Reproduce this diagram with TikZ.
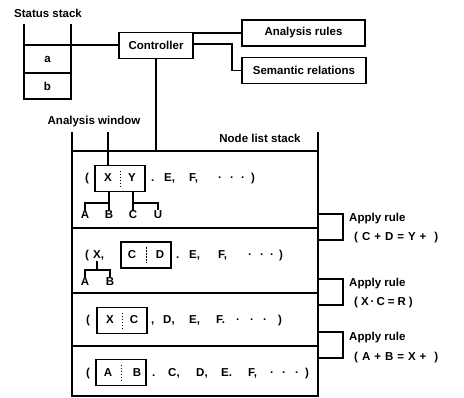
\documentclass[tikz,border=0pt]{standalone}
\usepackage{fontspec}
\setmainfont{Liberation Sans}
\begin{document}
\begin{tikzpicture}[x=1pt,y=-1pt,
  every node/.style={font=\fontsize{11.5}{13}\selectfont\bfseries, inner sep=0pt},
  ln/.style={line width=1.5pt, line cap=rect},
  unit/.style={draw, line width=1.5pt, inner sep=0pt},
  wbox/.style={draw, line width=1.5pt, minimum width=50pt, minimum height=26pt},
  sep/.style={line width=1pt, dash pattern=on 1.5pt off 1.5pt},
  tok/.style={anchor=base west},
  lbl/.style={anchor=base}]
\useasboundingbox (0,0) rectangle (464,398);

% --- status stack ---------------------------------------------------------
\node (stlabel) at (48,13) {Status stack};
\draw[ln] (24,25) -- (24,99) -- (71,99) -- (71,25);
\draw[ln] (24,45) -- (71,45);
\draw[ln] (24,73) -- (71,73);
\node (sa) at (47.5,59) {a};
\node (sb) at (47.5,86) {b};
\coordinate (stk) at (71,45);

% --- controller and its data --------------------------------------------
\node[unit, minimum width=74pt, minimum height=26pt] (ctrl) at (156,45.5) {Controller};
\node[unit, minimum width=123pt, minimum height=26pt] (rules) at (303.5,33) {Analysis rules};
\node[unit, minimum width=124pt, minimum height=26pt] (sem) at (304,70.5) {Semantic relations};
\draw[ln] (stk) -- (stk -| ctrl.west);
\draw[ln] ([xshift=-1pt]ctrl.east |- rules.west) -- (rules.west);
\draw[ln] ([yshift=1.5pt]ctrl.east) -- ++(38,0) |- (sem.west);

% --- node list stack -----------------------------------------------------
\node (awlabel) at (94,122) {Analysis window};
\node (nllabel) at (260,138) {Node list stack};
\coordinate (aw) at (108,133);
\draw[ln] (72,133) -- (72,396) -- (318,396) -- (318,133);
\draw[ln] (72,151) -- (318,151);
\draw[ln] (72,228) -- (318,228);
\draw[ln] (72,293) -- (318,293);
\draw[ln] (72,346) -- (318,346);
\draw[ln] (ctrl.south) -- (ctrl.south |- 0,151);

% row 1
\node[wbox] (w1) at (120,178.5) {};
\node (w1l) at (108,178) {X};
\node (w1r) at (132,178) {Y};
\draw[sep] ([yshift=-6pt]w1.north) -- ([yshift=6pt]w1.south);
\draw[ln] (aw) -- (aw |- w1.north);
\foreach \x/\t [count=\i] in {85/{(},151/{.},164/{E,},189/{F,},218/{·},230/{·},241/{·},251/{)}}
  \node[tok] (ra\i) at (\x,182) {\t};
\node[lbl] (tA) at (85,219) {A};
\node[lbl] (tB) at (109,219) {B};
\node[lbl] (tC) at (133,219) {C};
\node[lbl] (tU) at (158,219) {U};
\draw[ln] (tB.north |- w1.south) -- ([yshift=2pt]tB.north);
\draw[ln] ([yshift=2pt]tA.north) |- (tB.north |- 0,203);
\draw[ln] (tC.north |- w1.south) -- ([yshift=2pt]tC.north);
\draw[ln] ([yshift=2pt]tU.north) |- (tC.north |- 0,203);

% row 2
\node[wbox] (w2) at (146,255) {};
\node (w2l) at (132,255) {C};
\node (w2r) at (160,255) {D};
\draw[sep] ([yshift=-6pt]w2.north) -- ([yshift=6pt]w2.south);
\foreach \x/\t [count=\i] in {85/{(},93/{X,},176/{.},189/{E,},218/{F,},248/{·},260/{·},270/{·},279/{)}}
  \node[tok] (rb\i) at (\x,259) {\t};
\node[lbl] (sA) at (85,286) {A};
\node[lbl] (sB) at (110,286) {B};
\draw[ln] (97,262) -- (97,270);
\draw[ln] ([yshift=2pt]sA.north) |- (sB.north |- 0,270) -- ([yshift=2pt]sB.north);

% row 3
\node[wbox] (w3) at (122,320.5) {};
\node (w3l) at (110,320) {X};
\node (w3r) at (134,320) {C};
\draw[sep] ([yshift=-6pt]w3.north) -- ([yshift=6pt]w3.south);
\foreach \x/\t [count=\i] in {86/{(},151/{,},163/{D,},189/{E,},216/{F.},236/{·},250/{·},263/{·},278/{)}}
  \node[tok] (rc\i) at (\x,324) {\t};

% row 4
\node[wbox] (w4) at (121,372.5) {};
\node (w4l) at (108,373) {A};
\node (w4r) at (137,373) {B};
\draw[sep] ([yshift=-6pt]w4.north) -- ([yshift=6pt]w4.south);
\foreach \x/\t [count=\i] in {86/{(},152/{.},168/{C,},196/{D,},221/{E.},248/{F,},270/{·},282/{·},295/{·},305/{)}}
  \node[tok] (rd\i) at (\x,377) {\t};

% --- rule applications ---------------------------------------------------
\draw[ln] (318,214) -| (343,240) -- (318,240);
\node[tok] (ap1) at (349,222) {Apply rule};
\node[tok] (eq1) at (354,241) {(\hspace{4pt}C\hspace{4pt}+\hspace{4pt}D\hspace{4pt}=\hspace{4pt}Y\hspace{4pt}+\hspace{8pt})};
\draw[ln] (318,279) -| (343,305) -- (318,305);
\node[tok] (ap2) at (349,287) {Apply rule};
\node[tok] (eq2) at (354,306) {(\hspace{3pt}X\hspace{2pt}·\hspace{2pt}C\hspace{3pt}=\hspace{3pt}R\hspace{3pt})};
\draw[ln] (318,332) -| (343,358) -- (318,358);
\node[tok] (ap3) at (349,341) {Apply rule};
\node[tok] (eq3) at (354,361) {(\hspace{4pt}A\hspace{4pt}+\hspace{4pt}B\hspace{4pt}=\hspace{4pt}X\hspace{4pt}+\hspace{8pt})};
\end{tikzpicture}
\end{document}
